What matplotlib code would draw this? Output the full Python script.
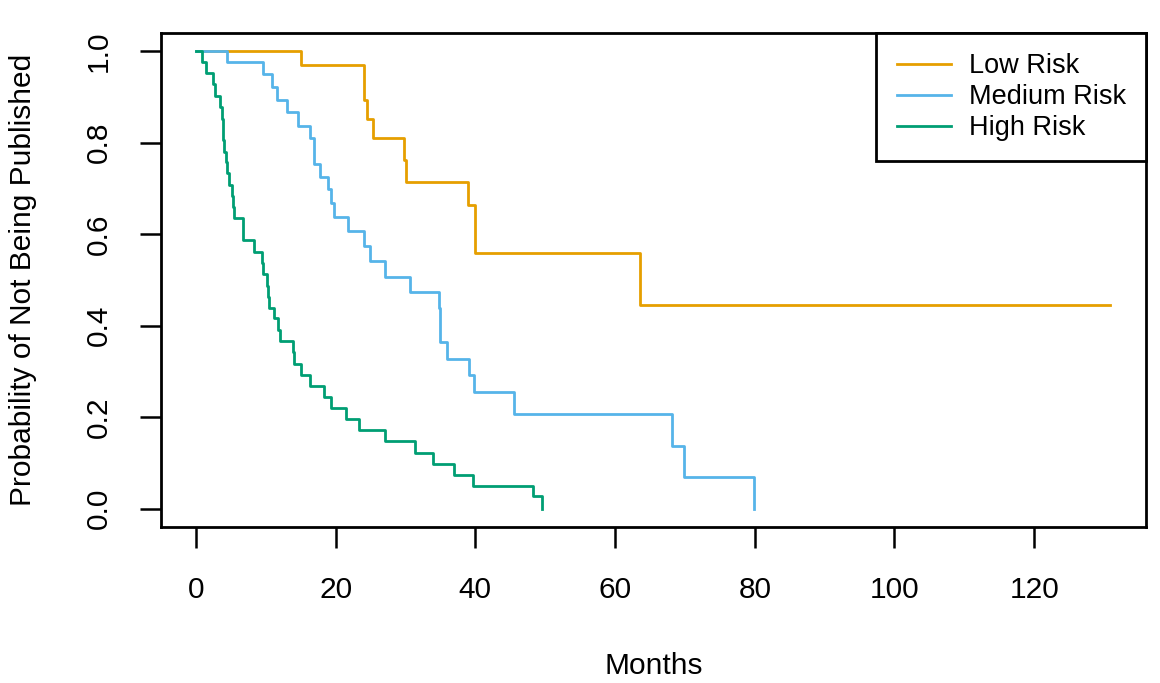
import matplotlib
matplotlib.use("Agg")
import matplotlib.pyplot as plt

plt.rcParams['font.family'] = ['Liberation Sans', 'DejaVu Sans']

# survival curves: step times (months) and survival after each step
low_t = [0, 15.0, 24.0, 24.5, 25.4, 29.8, 30.0, 38.9, 39.9, 40.0, 63.6, 130.9]
low_s = [1.0, 0.969, 0.893, 0.851, 0.811, 0.762, 0.715, 0.665, 0.613, 0.558, 0.446, 0.446]

med_t = [0, 4.5, 9.6, 10.9, 11.6, 13.1, 14.6, 16.3, 16.9, 17.7, 18.95, 19.4, 19.8,
         21.8, 24.0, 24.9, 27.0, 30.6, 34.85, 35.0, 35.9, 39.1, 39.8, 45.5,
         68.1, 69.9, 79.95]
med_s = [1.0, 0.976, 0.950, 0.921, 0.893, 0.867, 0.837, 0.810, 0.754, 0.726, 0.698, 0.669, 0.638,
         0.608, 0.574, 0.542, 0.507, 0.474, 0.438, 0.365, 0.328, 0.293, 0.256, 0.206,
         0.138, 0.070, 0.0]

high_t = [0, 0.9, 1.43, 2.5, 2.7, 3.4, 3.77, 3.9, 4.05, 4.25, 4.5, 4.7, 5.1, 5.25, 5.5,
          6.7, 6.8, 8.3, 9.4, 9.55, 10.2, 10.35, 10.5, 11.2, 11.8, 12.0, 13.85, 14.1,
          15.0, 16.3, 18.4, 19.4, 21.5, 23.4, 27.0, 31.4, 33.9, 36.9, 39.7, 48.3, 49.6]
high_s = [1.0, 0.976, 0.952, 0.928, 0.903, 0.879, 0.853, 0.806, 0.780, 0.757, 0.733, 0.707,
          0.683, 0.659, 0.635, 0.610, 0.587, 0.562, 0.538, 0.513, 0.487, 0.463, 0.439,
          0.416, 0.390, 0.367, 0.343, 0.317, 0.293, 0.268, 0.244, 0.220, 0.197, 0.173,
          0.149, 0.122, 0.098, 0.074, 0.050, 0.027, 0.0]

names = ['Low Risk', 'Medium Risk', 'High Risk']
colors = ['#E69F00', '#56B4E9', '#009E73']

fig = plt.figure(figsize=(11.6, 6.83), dpi=100)
ax = fig.add_axes([0.1388, 0.2284, 0.8491, 0.7233])

for t, s, c, n in zip([low_t, med_t, high_t], [low_s, med_s, high_s], colors, names):
    ax.step(t, s, where='post', color=c, lw=2.0, label=n)

ax.set_xlim(-5.0, 136.0)
ax.set_ylim(-0.04, 1.04)
ax.set_xticks([0, 20, 40, 60, 80, 100, 120])
ax.set_yticks([0.0, 0.2, 0.4, 0.6, 0.8, 1.0])
ax.set_yticklabels(['0.0', '0.2', '0.4', '0.6', '0.8', '1.0'], rotation=90, va='center')
ax.tick_params(direction='out', length=15, width=1.8, labelsize=21.5, pad=20)
for sp in ax.spines.values():
    sp.set_linewidth(2.0)

ax.set_xlabel('Months', fontsize=21.5, labelpad=35)
ax.set_ylabel('Probability of Not Being Published', fontsize=21.5, labelpad=34)

leg = ax.legend(loc='upper right', bbox_to_anchor=(1, 1), borderaxespad=0,
                fancybox=False, edgecolor='black', framealpha=1, fontsize=19.5,
                handlelength=2.0, handletextpad=0.65, borderpad=0.75, labelspacing=0.18)
leg.get_frame().set_linewidth(2.0)

fig.savefig('out.png', dpi=100)
